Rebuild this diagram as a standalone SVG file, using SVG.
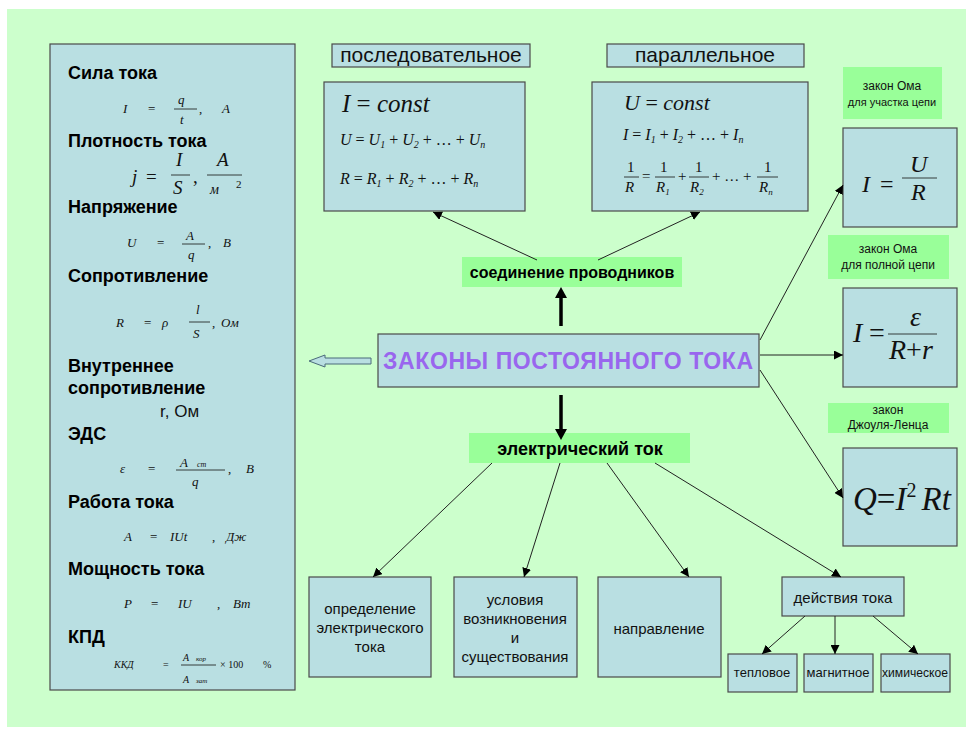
<svg xmlns="http://www.w3.org/2000/svg" width="966" height="729" viewBox="0 0 966 729">
<defs>
<marker id="ah" viewBox="0 0 10 10" refX="10" refY="5" markerWidth="9" markerHeight="9" markerUnits="userSpaceOnUse" orient="auto"><path d="M0,0 L10,5 L0,10 z" fill="#000"/></marker>
</defs>
<style>
.bx{fill:#b9dfe2;stroke:#4a4a4a;stroke-width:1.2}
.gl{fill:#99ff99}
.h{font-family:"Liberation Sans",Arial,sans-serif;font-weight:bold;font-size:18px;fill:#000}
.t{font-family:"Liberation Sans",Arial,sans-serif;fill:#111}
.m{font-family:"Liberation Serif","Times New Roman",serif;font-style:italic;fill:#111}
.n{font-family:"Liberation Serif","Times New Roman",serif;font-style:normal;fill:#111}
.fb{stroke:#111;stroke-width:0.8}
.c{stroke:#222;stroke-width:1;fill:none}
</style>
<rect x="0" y="0" width="966" height="729" fill="#fff"/>
<rect x="7" y="9" width="959" height="718" fill="#ccffcc"/>

<g id="left-panel">
<rect class="bx" x="50" y="44" width="245" height="646"/>
<text class="h" x="68" y="79">Сила тока</text>
<g class="m" font-size="13">
<text x="123" y="113">I</text><text class="n" x="148" y="113">=</text>
<text x="178" y="104">q</text><line class="fb" x1="174" y1="109" x2="197" y2="109"/><text x="180" y="124">t</text>
<text class="n" x="199" y="113">,</text><text x="222" y="113">A</text>
</g>
<text class="h" x="68" y="147">Плотность тока</text>
<g class="m">
<text x="132" y="183" font-size="19">j</text><text class="n" x="146" y="183" font-size="19">=</text>
<text x="176" y="166" font-size="19">I</text><line class="fb" x1="171" y1="175" x2="190" y2="175"/><text x="173" y="194" font-size="19">S</text>
<text class="n" x="193" y="183" font-size="19">,</text>
<text x="217" y="166" font-size="19">A</text><line class="fb" x1="207" y1="175" x2="242" y2="175"/><text x="210" y="194" font-size="14">м</text><text class="n" x="236" y="188" font-size="11">2</text>
</g>
<text class="h" x="68" y="213">Напряжение</text>
<g class="m" font-size="13">
<text x="127" y="247">U</text><text class="n" x="157" y="247">=</text>
<text x="186" y="240">A</text><line class="fb" x1="182" y1="244" x2="205" y2="244"/><text x="188" y="259">q</text>
<text class="n" x="208" y="247">,</text><text x="223" y="247">B</text>
</g>
<text class="h" x="68" y="282">Сопротивление</text>
<g class="m" font-size="13">
<text x="116" y="327">R</text><text class="n" x="144" y="327">=</text><text x="162" y="327">ρ</text>
<text x="196" y="314">l</text><line class="fb" x1="189" y1="322" x2="210" y2="322"/><text x="193" y="338">S</text>
<text class="n" x="212" y="327">,</text><text x="221" y="327">Ом</text>
</g>
<text class="h" x="68" y="372">Внутреннее</text>
<text class="h" x="68" y="394">сопротивление</text>
<text class="t" x="160" y="417" font-size="17">r, Ом</text>
<text class="h" x="68" y="440">ЭДС</text>
<g class="m" font-size="13">
<text x="120" y="473">ε</text><text class="n" x="148" y="473">=</text>
<text x="180" y="467">A</text><text x="197" y="467" font-size="8">ст</text><line class="fb" x1="176" y1="470" x2="225" y2="470"/><text x="192" y="486">q</text>
<text class="n" x="228" y="473">,</text><text x="246" y="473">B</text>
</g>
<text class="h" x="68" y="508">Работа тока</text>
<g class="m" font-size="13">
<text x="124" y="541">A</text><text class="n" x="150" y="541">=</text><text x="170" y="541">IUt</text>
<text class="n" x="212" y="541">,</text><text x="226" y="541">Дж</text>
</g>
<text class="h" x="68" y="575">Мощность тока</text>
<g class="m" font-size="13">
<text x="124" y="608">P</text><text class="n" x="151" y="608">=</text><text x="178" y="608">IU</text>
<text class="n" x="217" y="608">,</text><text x="233" y="608">Вт</text>
</g>
<text class="h" x="68" y="643">КПД</text>
<g class="m" font-size="10">
<text x="114" y="668">ККД</text><text class="n" x="163" y="668">=</text>
<text x="183" y="661">A</text><text x="196" y="661" font-size="7">кор</text><line class="fb" x1="181" y1="665" x2="216" y2="665"/>
<text x="183" y="683">A</text><text x="196" y="683" font-size="7">зат</text>
<text class="n" x="220" y="668">× 100</text><text class="n" x="263" y="668">%</text>
</g>
</g>

<g id="header-series">
<rect class="bx" x="332" y="44" width="198" height="23"/>
<text class="t" x="431" y="62" font-size="21" text-anchor="middle">последовательное</text>
</g>
<g id="header-parallel">
<rect class="bx" x="607" y="44" width="197" height="23"/>
<text class="t" x="705" y="62" font-size="21" text-anchor="middle">параллельное</text>
</g>

<g id="series-box">
<rect class="bx" x="324" y="82" width="201" height="129"/>
<text class="m" x="342" y="112" font-size="25">I <tspan class="n">=</tspan> const</text>
<text class="m" x="340" y="145" font-size="16">U <tspan class="n">=</tspan> U<tspan font-size="10" dy="3">1</tspan><tspan dy="-3" class="n"> + </tspan>U<tspan font-size="10" dy="3">2</tspan><tspan dy="-3" class="n"> + … + </tspan>U<tspan font-size="10" dy="3">n</tspan></text>
<text class="m" x="340" y="184" font-size="16">R <tspan class="n">=</tspan> R<tspan font-size="10" dy="3">1</tspan><tspan dy="-3" class="n"> + </tspan>R<tspan font-size="10" dy="3">2</tspan><tspan dy="-3" class="n"> + … + </tspan>R<tspan font-size="10" dy="3">n</tspan></text>
</g>

<g id="parallel-box">
<rect class="bx" x="592" y="82" width="216" height="129"/>
<text class="m" x="624" y="110" font-size="22">U <tspan class="n">=</tspan> const</text>
<text class="m" x="623" y="140" font-size="16">I <tspan class="n">=</tspan> I<tspan font-size="10" dy="3">1</tspan><tspan dy="-3" class="n"> + </tspan>I<tspan font-size="10" dy="3">2</tspan><tspan dy="-3" class="n"> + … + </tspan>I<tspan font-size="10" dy="3">n</tspan></text>
<g font-size="15">
<text class="n" x="627" y="172">1</text><line class="fb" x1="624" y1="177" x2="639" y2="177"/><text class="m" x="625" y="192">R</text>
<text class="n" x="642" y="181">=</text>
<text class="n" x="660" y="172">1</text><line class="fb" x1="655" y1="177" x2="675" y2="177"/><text class="m" x="656" y="192">R<tspan font-size="9" dy="3">1</tspan></text>
<text class="n" x="678" y="181">+</text>
<text class="n" x="695" y="172">1</text><line class="fb" x1="689" y1="177" x2="709" y2="177"/><text class="m" x="690" y="192">R<tspan font-size="9" dy="3">2</tspan></text>
<text class="n" x="712" y="181">+ … +</text>
<text class="n" x="764" y="172">1</text><line class="fb" x1="757" y1="177" x2="778" y2="177"/><text class="m" x="759" y="192">R<tspan font-size="9" dy="3">n</tspan></text>
</g>
</g>

<g id="label-ohm-section">
<rect class="gl" x="843" y="67" width="99" height="52"/>
<text class="t" x="892" y="90" font-size="12" text-anchor="middle">закон Ома</text>
<text class="t" x="892" y="106" font-size="11" text-anchor="middle">для участка цепи</text>
</g>
<g id="ohm-section">
<rect class="bx" x="843" y="128" width="114" height="99"/>
<text class="m" x="862" y="192" font-size="24">I</text><text class="n" x="880" y="192" font-size="24">=</text>
<text class="m" x="910" y="172" font-size="24">U</text><line class="fb" x1="902" y1="178" x2="937" y2="178"/><text class="m" x="911" y="200" font-size="24">R</text>
</g>

<g id="label-ohm-full">
<rect class="gl" x="828" y="235" width="121" height="44"/>
<text class="t" x="888" y="253" font-size="12" text-anchor="middle">закон Ома</text>
<text class="t" x="888" y="269" font-size="12" text-anchor="middle">для полной цепи</text>
</g>
<g id="ohm-full">
<rect class="bx" x="843" y="288" width="114" height="99"/>
<text class="m" x="853" y="342" font-size="28">I</text><text class="n" x="869" y="342" font-size="28">=</text>
<text class="m" x="910" y="326" font-size="28">ε</text><line class="fb" x1="888" y1="334" x2="937" y2="334"/>
<text class="m" x="889" y="359" font-size="28">R<tspan class="n">+</tspan>r</text>
</g>

<g id="label-joule">
<rect class="gl" x="828" y="403" width="121" height="30"/>
<text class="t" x="888" y="414" font-size="12" text-anchor="middle">закон</text>
<text class="t" x="888" y="429" font-size="12" text-anchor="middle">Джоуля-Ленца</text>
</g>
<g id="joule">
<rect class="bx" x="843" y="448" width="114" height="98"/>
<text class="m" x="853" y="510" font-size="33">Q<tspan class="n">=</tspan>I<tspan class="n" font-size="20" dy="-13">2</tspan><tspan dx="5" dy="13">Rt</tspan></text>
</g>

<g id="central">
<rect class="bx" x="378" y="334" width="381" height="53"/>
<text x="568" y="369" font-family="'Liberation Sans',Arial,sans-serif" font-weight="bold" font-size="23" fill="#9966ee" text-anchor="middle" textLength="370" lengthAdjust="spacing">ЗАКОНЫ  ПОСТОЯННОГО  ТОКА</text>
</g>

<g id="connection">
<rect class="gl" x="462" y="257" width="220" height="30"/>
<text class="h" x="572" y="278" style="font-size:16px" text-anchor="middle">соединение проводников</text>
</g>
<g id="current">
<rect class="gl" x="469" y="433" width="221" height="30"/>
<text class="h" x="580" y="455" style="font-size:18px" text-anchor="middle">электрический ток</text>
</g>

<g id="def-box">
<rect class="bx" x="309" y="577" width="122" height="100"/>
<g class="t" font-size="15" text-anchor="middle"><text x="370" y="614">определение</text><text x="370" y="633">электрического</text><text x="370" y="652">тока</text></g>
</g>
<g id="cond-box">
<rect class="bx" x="454" y="577" width="123" height="100"/>
<g class="t" font-size="15" text-anchor="middle"><text x="515" y="605">условия</text><text x="515" y="624">возникновения</text><text x="515" y="643">и</text><text x="515" y="662">существования</text></g>
</g>
<g id="dir-box">
<rect class="bx" x="598" y="577" width="123" height="100"/>
<text class="t" x="659" y="634" font-size="15" text-anchor="middle">направление</text>
</g>
<g id="actions-box">
<rect class="bx" x="782" y="577" width="122" height="39"/>
<text class="t" x="843" y="603" font-size="15" text-anchor="middle">действия тока</text>
</g>
<g id="thermal">
<rect class="bx" x="728" y="654" width="69" height="38"/>
<text class="t" x="762" y="677" font-size="13" text-anchor="middle">тепловое</text>
</g>
<g id="magnetic">
<rect class="bx" x="804" y="654" width="69" height="38"/>
<text class="t" x="838" y="677" font-size="13" text-anchor="middle">магнитное</text>
</g>
<g id="chemical">
<rect class="bx" x="881" y="654" width="69" height="38"/>
<text class="t" x="915" y="677" font-size="12" text-anchor="middle" textLength="66" lengthAdjust="spacingAndGlyphs">химическое</text>
</g>

<g id="connectors">
<path d="M371,358 L325,358 L325,355 L309,361 L325,367 L325,364 L371,364 z" fill="#b9dfe2" stroke="#4a6a7a" stroke-width="1"/>
<line x1="561" y1="326" x2="561" y2="296" stroke="#000" stroke-width="3.5"/>
<path d="M561,287 L555,298 L567,298 z" fill="#000"/>
<line x1="561" y1="395" x2="561" y2="430" stroke="#000" stroke-width="3.5"/>
<path d="M561,440 L555,429 L567,429 z" fill="#000"/>
<line class="c" x1="537" y1="260" x2="433" y2="212" marker-end="url(#ah)"/>
<line class="c" x1="598" y1="260" x2="700" y2="212" marker-end="url(#ah)"/>
<line class="c" x1="760" y1="340" x2="843" y2="185" marker-end="url(#ah)"/>
<line class="c" x1="760" y1="355" x2="843" y2="355" marker-end="url(#ah)"/>
<line class="c" x1="760" y1="370" x2="843" y2="498" marker-end="url(#ah)"/>
<line class="c" x1="492" y1="463" x2="373" y2="577" marker-end="url(#ah)"/>
<line class="c" x1="560" y1="463" x2="524" y2="577" marker-end="url(#ah)"/>
<line class="c" x1="607" y1="463" x2="689" y2="577" marker-end="url(#ah)"/>
<line class="c" x1="655" y1="463" x2="841" y2="577" marker-end="url(#ah)"/>
<line class="c" x1="805" y1="616" x2="762" y2="654" marker-end="url(#ah)"/>
<line class="c" x1="835" y1="616" x2="835" y2="654" marker-end="url(#ah)"/>
<line class="c" x1="873" y1="616" x2="918" y2="654" marker-end="url(#ah)"/>
</g>
</svg>
